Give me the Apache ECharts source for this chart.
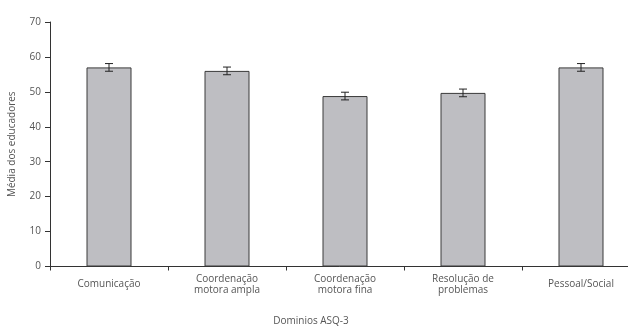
<!DOCTYPE html>
<html>
<head>
<meta charset="utf-8">
<script src="https://cdn.jsdelivr.net/npm/echarts@6/dist/echarts.min.js"></script>
<style>
  html, body { margin: 0; padding: 0; background: #fff; }
  #chart { width: 628px; height: 335px; }
</style>
</head>
<body>
<div id="chart"></div>
<script>
const categories = ['Comunicação', 'Coordenação\nmotora ampla', 'Coordenação\nmotora fina', 'Resolução de\nproblemas', 'Pessoal/Social'];
const means = [57.0, 56.0, 48.8, 49.7, 57.0];
const errors = [1.1, 1.1, 1.1, 1.1, 1.1];

const errorData = means.map((m, i) => [i, m - errors[i], m + errors[i]]);

const textColor = '#555';
const fontFamily = '"Open Sans", "Noto Sans", sans-serif';

const option = {
    animation: false,
    grid: {
        left: 50,
        right: -12,
        top: 22,
        bottom: 68.5,
        outerBoundsMode: 'none'
    },
    xAxis: {
        type: 'category',
        data: categories,
        axisLine: { lineStyle: { color: '#333', width: 1 } },
        axisTick: { show: true, length: 4, lineStyle: { color: '#333' } },
        axisLabel: {
            fontSize: 10,
            fontFamily: fontFamily,
            color: textColor,
            lineHeight: 11,
            verticalAlign: 'middle',
            margin: 18,
            interval: 0
        }
    },
    yAxis: {
        type: 'value',
        min: 0,
        max: 70,
        interval: 10,
        name: 'Média dos educadores',
        nameLocation: 'middle',
        nameRotate: 90,
        nameGap: 33,
        nameTextStyle: { fontSize: 10, fontFamily: fontFamily, color: textColor },
        splitLine: { show: false },
        axisLine: { show: true, lineStyle: { color: '#333', width: 1 } },
        axisTick: { show: true, length: 5, lineStyle: { color: '#333' } },
        axisLabel: { fontSize: 10, fontFamily: fontFamily, color: textColor, margin: 9 }
    },
    graphic: [{
        type: 'text',
        x: 311,
        y: 321,
        style: {
            text: 'Dominios ASQ-3',
            fontSize: 10,
            fontFamily: fontFamily,
            fill: textColor,
            align: 'center',
            verticalAlign: 'middle'
        }
    }],
    series: [{
        type: 'bar',
        data: means,
        barWidth: 45,
        itemStyle: {
            color: '#bebec2',
            borderColor: '#3a3a3a',
            borderWidth: 1
        }
    }, {
        type: 'custom',
        data: errorData,
        z: 10,
        renderItem: (params, api) => {
            const x = api.value(0);
            const lo = api.coord([x, api.value(1)]);
            const hi = api.coord([x, api.value(2)]);
            const cap = 4;
            const style = { stroke: '#222', lineWidth: 1 };
            return {
                type: 'group',
                children: [
                    { type: 'line', shape: { x1: hi[0], y1: hi[1], x2: lo[0], y2: lo[1] }, style: style },
                    { type: 'line', shape: { x1: hi[0] - cap, y1: hi[1], x2: hi[0] + cap, y2: hi[1] }, style: style },
                    { type: 'line', shape: { x1: lo[0] - cap, y1: lo[1], x2: lo[0] + cap, y2: lo[1] }, style: style }
                ]
            };
        }
    }]
};

const chart = echarts.init(document.getElementById('chart'));
chart.setOption(option);
window.addEventListener('resize', () => chart.resize());
</script>
</body>
</html>
